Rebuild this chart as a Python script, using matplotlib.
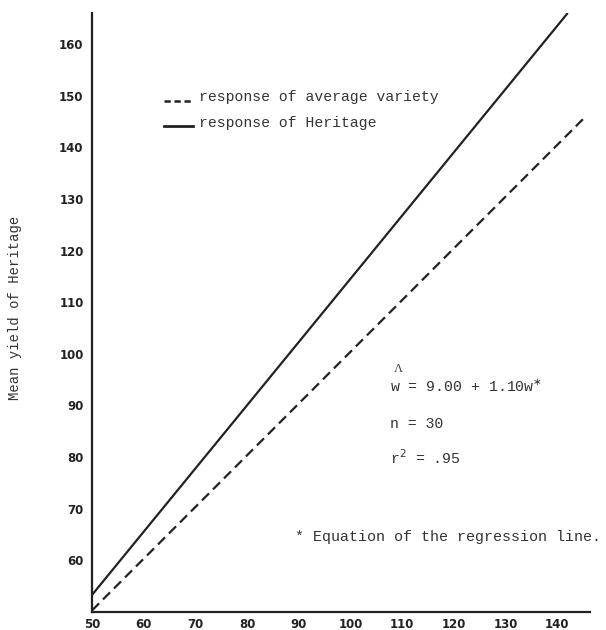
import matplotlib
matplotlib.use("Agg")
import matplotlib.pyplot as plt

# Data
x_ticks = [50, 60, 70, 80, 90, 100, 110, 120, 130, 140]
y_ticks = [60, 70, 80, 90, 100, 110, 120, 130, 140, 150, 160]
heritage_x = [50, 142]
heritage_y = [53.3, 166]
average_x = [50, 145]
average_y = [50.3, 145.5]

legend_labels = ["response of average variety", "response of Heritage"]
ylabel = "Mean yield of Heritage"

ink = "#222222"
txt = "#333333"

fig = plt.figure(figsize=(6.06, 6.30), dpi=100)
ax = fig.add_axes([92 / 606, 1 - 612 / 630, (590 - 92) / 606, (612 - 13) / 630])
ax.set_xlim(50, 146.3)
ax.set_ylim(50, 166)

ax.plot(heritage_x, heritage_y, color=ink, lw=1.6, solid_capstyle="butt")
ax.plot(average_x, average_y, color=ink, lw=1.6, dashes=(4.5, 2.5))

for s in ["top", "right"]:
    ax.spines[s].set_visible(False)
for s in ["left", "bottom"]:
    ax.spines[s].set_color(ink)
    ax.spines[s].set_linewidth(1.6)

ax.set_xticks(x_ticks)
ax.set_yticks(y_ticks)
ax.set_xticklabels([str(v) for v in x_ticks], fontweight="bold", fontsize=8.5,
                   family="DejaVu Sans", color=ink)
ax.set_yticklabels([str(v) for v in y_ticks], fontweight="bold", fontsize=8.5,
                   family="DejaVu Sans", color=ink)
ax.tick_params(axis="both", length=0)
ax.tick_params(axis="x", pad=4)
ax.tick_params(axis="y", pad=6)

fig.text(15 / 606, 1 - 308 / 630, ylabel, rotation=90, va="center", ha="center",
         family="Liberation Mono", fontsize=10, color=txt)


def fx(px):
    return px / 606


def fy(py):
    return 1 - py / 630


# Legend (manual)
fig.add_artist(plt.Line2D([fx(164), fx(193)], [fy(101), fy(101)], color=ink, lw=1.8,
                          dashes=(2.5, 1.5)))
fig.add_artist(plt.Line2D([fx(164), fx(193)], [fy(126), fy(126)], color=ink, lw=2.0))
fig.text(fx(199), fy(97), legend_labels[0], va="center", ha="left",
         family="Liberation Mono", fontsize=10.6, color=txt)
fig.text(fx(199), fy(123), legend_labels[1], va="center", ha="left",
         family="Liberation Mono", fontsize=10.6, color=txt)

# Annotations
fig.text(fx(394), fy(369), "\u039b", family="Liberation Serif", fontsize=9,
         va="center", ha="left", color="#444444")
fig.text(fx(390), fy(386), "w = 9.00 + 1.10w$^{\\ast}$", family="Liberation Mono",
         fontsize=10.7, va="center", ha="left", color=txt)
fig.text(fx(390), fy(424), "n = 30", family="Liberation Mono", fontsize=10.7,
         va="center", ha="left", color=txt)
fig.text(fx(390), fy(458), "r$^{2}$ = .95", family="Liberation Mono", fontsize=10.7,
         va="center", ha="left", color=txt)
fig.text(fx(295), fy(537), "* Equation of the regression line.", family="Liberation Mono",
         fontsize=10.8, va="center", ha="left", color=txt)

fig.savefig("out.png", dpi=100)
